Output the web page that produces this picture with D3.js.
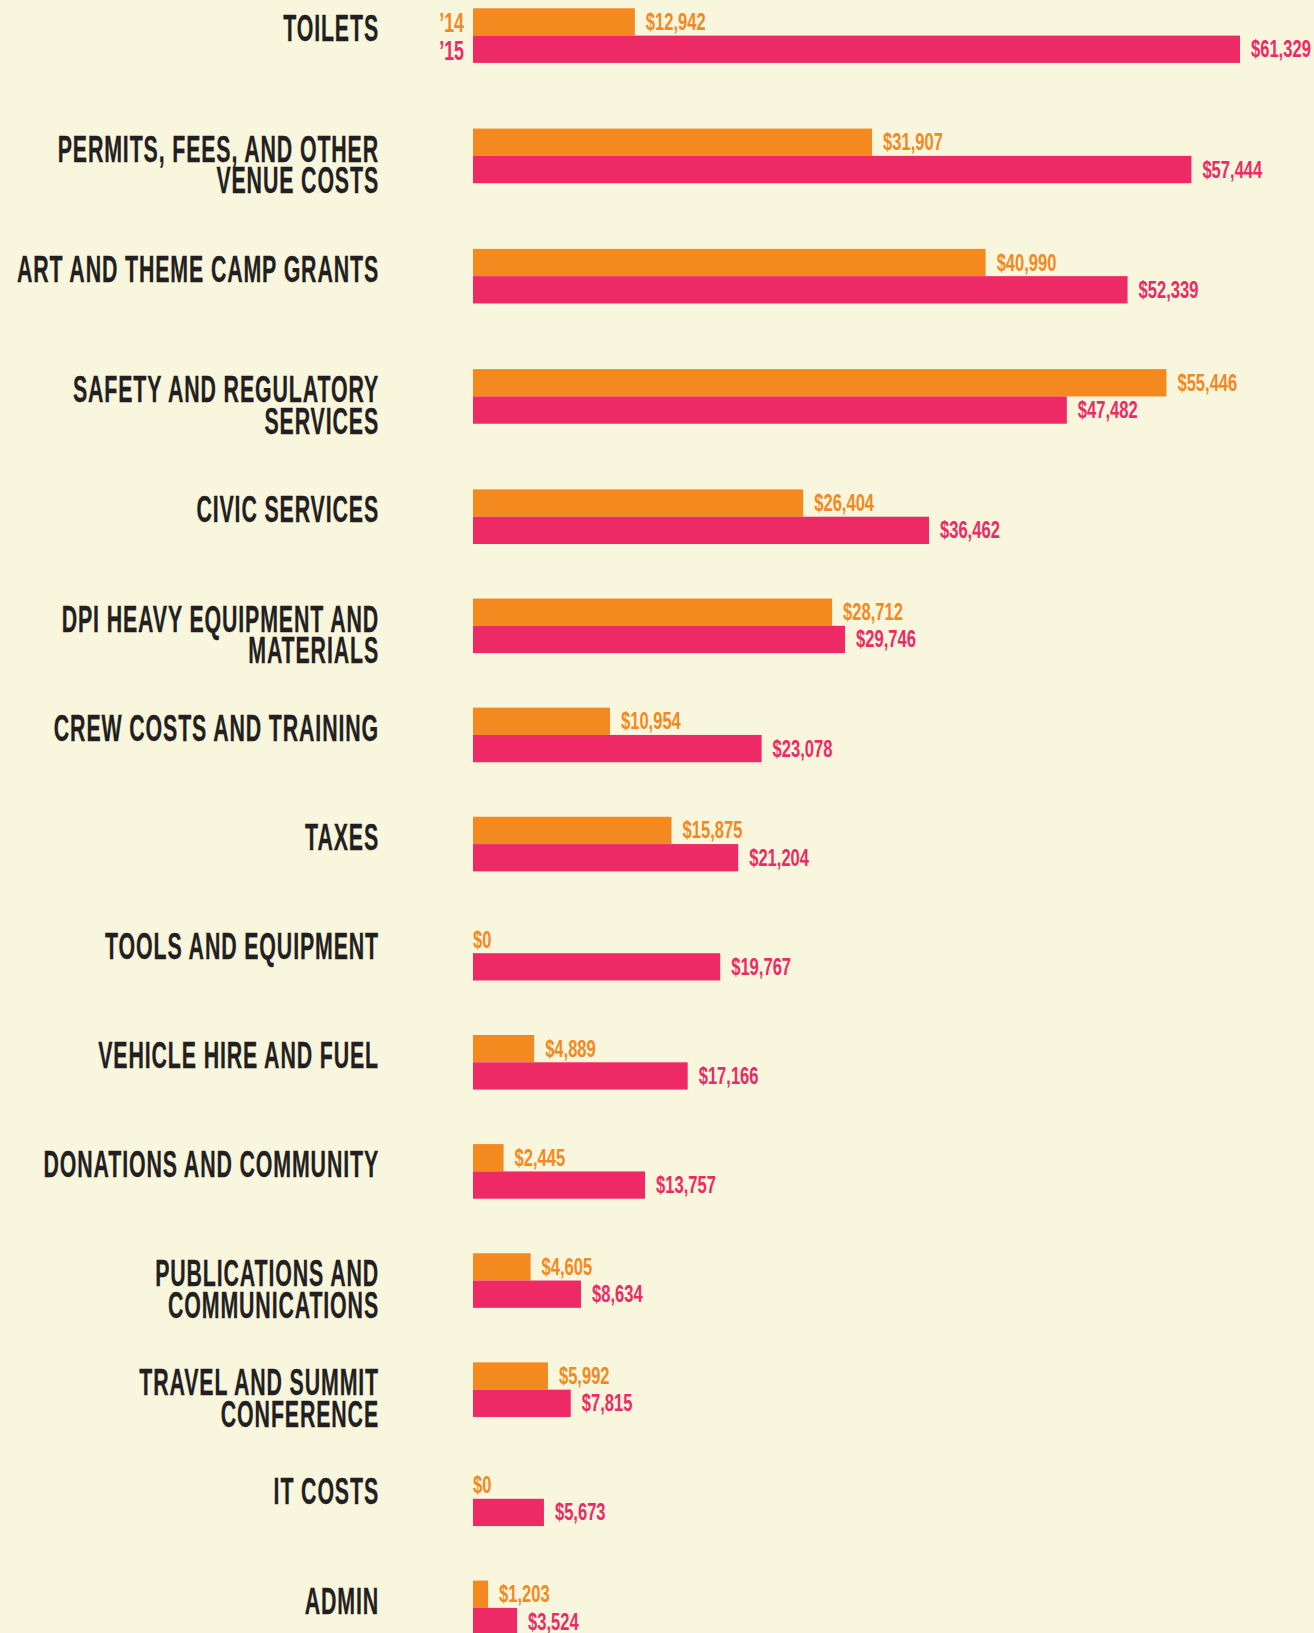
<!DOCTYPE html>
<html>
<head>
<meta charset="utf-8">
<script src="https://cdn.jsdelivr.net/npm/d3@7"></script>
<style>
  body { margin: 0; background: #f9f6de; }
</style>
</head>
<body>
<div id="chart"></div>
<script>
const categories = [
  "TOILETS",
  "PERMITS, FEES, AND OTHER|VENUE COSTS",
  "ART AND THEME CAMP GRANTS",
  "SAFETY AND REGULATORY|SERVICES",
  "CIVIC SERVICES",
  "DPI HEAVY EQUIPMENT AND|MATERIALS",
  "CREW COSTS AND TRAINING",
  "TAXES",
  "TOOLS AND EQUIPMENT",
  "VEHICLE HIRE AND FUEL",
  "DONATIONS AND COMMUNITY",
  "PUBLICATIONS AND|COMMUNICATIONS",
  "TRAVEL AND SUMMIT|CONFERENCE",
  "IT COSTS",
  "ADMIN"
];
const values14 = [12942, 31907, 40990, 55446, 26404, 28712, 10954, 15875, 0, 4889, 2445, 4605, 5992, 0, 1203];
const values15 = [61329, 57444, 52339, 47482, 36462, 29746, 23078, 21204, 19767, 17166, 13757, 8634, 7815, 5673, 3524];
const years = ["\u201914", "\u201915"];
const colors = ["#f4891f", "#ee2a66"];

const width = 1314,
  height = 1633,
  barH = 27.3,
  labelRight = 379,
  font = "'Liberation Sans', Arial, sans-serif",
  squeeze = 0.57; // condensed look for the category names

const x = d3.scaleLinear().domain([0, d3.max(values15)]).range([473, 1240]);
// groups are spaced a bit wider at the top than further down
const y = d3.scaleLinear().domain([0, 4, categories.length - 1]).range([8.3, 489.4, 1580.6]);
const fmt = d3.format("$,");

const svg = d3.select("#chart")
  .append("svg")
  .attr("width", width)
  .attr("height", height)
  .style("display", "block")
  .style("background", "#f9f6de");

const rows = categories.map((c, i) => ({ name: c, i, v: [values14[i], values15[i]] }));

const group = svg.append("g")
  .selectAll("g")
  .data(rows)
  .join("g")
  .attr("transform", d => `translate(0,${y(d.i)})`);

// bars
group.selectAll("rect")
  .data(d => d.v)
  .join("rect")
  .attr("x", x(0))
  .attr("y", (d, k) => k * barH)
  .attr("width", d => x(d) - x(0))
  .attr("height", barH)
  .attr("fill", (d, k) => colors[k]);

// value labels
group.selectAll("text.val")
  .data(d => d.v)
  .join("text")
  .attr("class", "val")
  .attr("transform", (d, k) => `translate(${d > 0 ? x(d) + 11 : x(0)},${k * barH + barH / 2 + 8}) scale(0.72,1)`)
  .attr("font-family", font)
  .attr("font-weight", "bold")
  .attr("font-size", 23)
  .attr("fill", (d, k) => colors[k])
  .text(d => fmt(d));

// category labels
group.append("text")
  .attr("transform", `translate(${labelRight},33) scale(${squeeze},1)`)
  .attr("text-anchor", "end")
  .attr("font-family", font)
  .attr("font-weight", "bold")
  .attr("font-size", 37.5)
  .attr("letter-spacing", 1.5)
  .attr("fill", "#231f20")
  .attr("stroke", "#231f20")
  .attr("stroke-width", 0.3)
  .selectAll("tspan")
  .data(d => d.name.split("|"))
  .join("tspan")
  .attr("x", 0)
  .attr("y", (d, i) => i * 31.5)
  .text(d => d);

// year keys next to the first group
svg.append("g")
  .selectAll("text")
  .data(years)
  .join("text")
  .attr("transform", (d, k) => `translate(464,${y(0) + k * barH + barH / 2 + 10.5}) scale(0.66,1)`)
  .attr("text-anchor", "end")
  .attr("font-family", font)
  .attr("font-weight", "bold")
  .attr("font-size", 27)
  .attr("fill", (d, k) => colors[k])
  .text(d => d);
</script>
</body>
</html>
